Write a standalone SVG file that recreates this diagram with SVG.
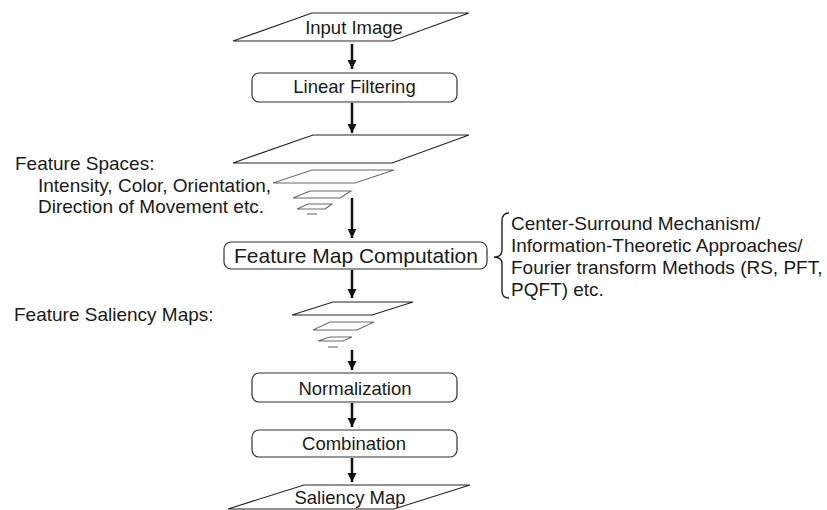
<svg xmlns="http://www.w3.org/2000/svg" width="827" height="510" viewBox="0 0 827 510">
  <style>
    text { font-family: "Liberation Sans", Arial, sans-serif; fill: #1a1a1a; }
    .node { font-size: 18.5px; text-anchor: middle; }
    .big { font-size: 21px; text-anchor: middle; }
    .note { font-size: 19px; }
    .box { fill: #fff; stroke: #333; stroke-width: 1.2; }
    .io { fill: #fff; stroke: #222; stroke-width: 1.1; }
    .layer { fill: none; stroke: #222; stroke-width: 1.1; }
    .sub { fill: none; stroke: #6a6a6a; stroke-width: 1.1; }
    .arrow { stroke: #111; stroke-width: 2.5; fill: none; marker-end: url(#head); }
    .brace { fill: none; stroke: #222; stroke-width: 1.4; }
  </style>
  <defs>
    <marker id="head" viewBox="0 0 10 10" refX="10" refY="5" markerWidth="3.8" markerHeight="4" orient="auto" markerUnits="strokeWidth">
      <path d="M0,0 L10,5 L0,10 z" fill="#111"/>
    </marker>
  </defs>
  <rect width="827" height="510" fill="#fff"/>

  <g id="input-image">
    <polygon class="io" points="312,13 469,13 392,41 233,41"/>
    <text class="node" x="354" y="34">Input Image</text>
  </g>

  <g id="linear-filtering">
    <rect class="box" x="252" y="73" width="205" height="29" rx="7"/>
    <text class="node" x="354.5" y="93">Linear Filtering</text>
  </g>

  <g id="feature-spaces">
    <polygon class="layer" points="313,135 469,135 392,163 233,163"/>
    <polygon class="sub" points="312,170 394,170 355,183 273,183"/>
    <polygon class="sub" points="310,191 351,191 340,198 293,198"/>
    <polygon class="sub" points="308,204 332,204 325,209 297,209"/>
    <line class="sub" x1="307" y1="214" x2="317" y2="214" stroke-width="1.6"/>
    <text class="note" x="15" y="170">Feature Spaces:</text>
    <text class="note" x="38" y="192">Intensity, Color, Orientation,</text>
    <text class="note" x="38" y="213">Direction of Movement etc.</text>
  </g>

  <g id="feature-map-computation">
    <rect class="box" x="224" y="242" width="263" height="27" rx="7"/>
    <text class="big" x="356" y="263">Feature Map Computation</text>
  </g>

  <g id="methods">
    <path class="brace" d="M509,213 Q502,213 502,221 L502,250 Q502,257 494,257 Q502,257 502,264 L502,291 Q502,298 509,298"/>
    <text class="note" x="511" y="230">Center-Surround Mechanism/</text>
    <text class="note" x="511" y="252">Information-Theoretic Approaches/</text>
    <text class="note" x="511" y="274">Fourier transform Methods (RS, PFT,</text>
    <text class="note" x="511" y="296">PQFT) etc.</text>
  </g>

  <g id="feature-saliency-maps">
    <polygon class="layer" points="333,302 413,302 372,315 292,315" stroke="#333"/>
    <polygon class="sub" points="330,322 374,322 357,330 313,330"/>
    <polygon class="sub" points="330,337 352,337 343,341 318,341"/>
    <line class="sub" x1="328" y1="347" x2="338" y2="347" stroke-width="1.6"/>
    <text class="note" x="14" y="321">Feature Saliency Maps:</text>
  </g>

  <g id="normalization">
    <rect class="box" x="252" y="373" width="205" height="29" rx="7"/>
    <text class="node" x="355" y="395">Normalization</text>
  </g>

  <g id="combination">
    <rect class="box" x="252" y="430" width="205" height="27" rx="7"/>
    <text class="node" x="354" y="450">Combination</text>
  </g>

  <g id="saliency-map">
    <polygon class="io" points="304,485 470,485 394,509 228,509"/>
    <text class="node" x="350" y="504">Saliency Map</text>
  </g>

  <g id="connectors">
    <line class="arrow" x1="352" y1="44" x2="352" y2="69"/>
    <line class="arrow" x1="352" y1="103" x2="352" y2="133"/>
    <line class="arrow" x1="352" y1="198" x2="352" y2="238"/>
    <line class="arrow" x1="352" y1="270" x2="352" y2="298"/>
    <line class="arrow" x1="352" y1="350" x2="352" y2="370"/>
    <line class="arrow" x1="352" y1="403" x2="352" y2="427"/>
    <line class="arrow" x1="352" y1="458" x2="352" y2="482"/>
  </g>
</svg>
